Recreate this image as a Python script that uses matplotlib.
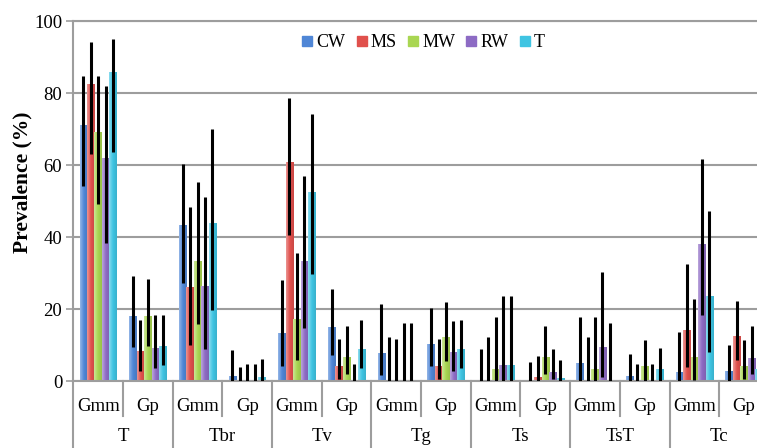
import matplotlib
matplotlib.use('Agg')
import matplotlib.pyplot as plt
import numpy as np
from matplotlib.colors import LinearSegmentedColormap, to_rgb
from matplotlib.lines import Line2D
from matplotlib.transforms import blended_transform_factory

plt.rcParams['font.family'] = ['Liberation Serif', 'DejaVu Serif']

groups = ['T', 'Tbr', 'Tv', 'Tg', 'Ts', 'TsT', 'Tc']
subs = ['Gmm', 'Gp']
series = ['CW', 'MS', 'MW', 'RW', 'T']
colors = ['#4f86d6', '#e0504c', '#a9d652', '#8d6bc4', '#3fc4e2']

# bar heights, lower and upper ends of the error lines (order: T Gmm, T Gp, Tbr Gmm, ...)
cw    = [70.9, 17.9, 43.2, 1.3, 13.2, 14.9, 7.6, 10.1, 0, 0, 4.8, 1.3, 2.4, 2.7]
cw_lo = [54.2, 9.4, 27.2, 0, 4.2, 7.1, 1.6, 4.1, 0, 0, 0, 0, 0, 0]
cw_hi = [84.6, 29.1, 60.4, 8.5, 28.1, 25.6, 21.3, 20.3, 9.0, 5.2, 17.8, 7.6, 13.6, 10.1]

ms    = [82.3, 8.1, 26.0, 0, 60.6, 3.9, 0, 3.9, 0, 0.9, 0, 0, 14.1, 12.4]
ms_lo = [63.1, 2.8, 10.1, 0, 40.6, 0.5, 0, 0.5, 0, 0, 0, 0, 3.9, 5.7]
ms_hi = [94.1, 17.0, 48.3, 3.9, 78.7, 11.8, 12.2, 11.8, 12.2, 7.0, 12.2, 4.6, 32.6, 22.2]

mw    = [68.9, 17.9, 33.2, 0, 17.0, 6.5, 0, 12.2, 3.2, 6.5, 3.2, 3.9, 6.5, 3.9]
mw_lo = [49.3, 9.6, 15.7, 0, 5.7, 2.0, 0, 5.6, 0, 2.0, 0, 0, 0.4, 0.6]
mw_hi = [84.6, 28.3, 55.2, 4.8, 35.6, 15.2, 11.8, 21.9, 17.8, 15.2, 17.8, 11.3, 22.7, 11.3]

rw    = [61.9, 9.0, 26.3, 0, 33.2, 0, 0, 7.9, 4.4, 2.5, 9.3, 0, 38.0, 6.3]
rw_lo = [38.4, 3.7, 8.8, 0, 14.7, 0, 0, 2.8, 0, 0.6, 1.1, 0, 18.2, 2.0]
rw_hi = [82.0, 18.3, 51.0, 4.6, 57.0, 4.8, 16.1, 16.6, 23.7, 9.0, 30.3, 4.6, 61.6, 15.2]

tt    = [85.7, 9.7, 43.8, 1.0, 52.3, 8.8, 0, 8.8, 4.4, 0.8, 0, 3.1, 23.6, 3.1]
tt_lo = [63.6, 4.4, 19.8, 0, 29.8, 3.7, 0, 3.7, 0, 0, 0, 0, 8.1, 0]
tt_hi = [95.0, 18.3, 70.0, 6.1, 74.1, 16.9, 16.1, 16.9, 23.7, 5.8, 16.1, 9.3, 47.2, 9.0]

vals = [cw, ms, mw, rw, tt]
los = [cw_lo, ms_lo, mw_lo, rw_lo, tt_lo]
his = [cw_hi, ms_hi, mw_hi, rw_hi, tt_hi]

fig = plt.figure(figsize=(7.57, 4.48), dpi=100)
ax = fig.add_axes([73.3/757, 67/448, (757-73.3)/757, 360/448])

ncat = len(groups)*len(subs)
pos = np.arange(ncat) + 0.5
w = 0.15
grad = np.linspace(0, 1, 64).reshape(1, -1)

for k in range(len(series)):
	x = pos + (k-2)*w
	v = np.array(vals[k])
	base = np.array(to_rgb(colors[k]))
	light = base + (1-base)*0.4
	dark = base*0.9
	cmap = LinearSegmentedColormap.from_list('g%d' % k, [light, base, dark])
	bars = ax.bar(x, v, w, color=colors[k], zorder=2)
	for b in bars:
		if b.get_height() <= 0:
			continue
		ax.imshow(grad, extent=[b.get_x(), b.get_x()+b.get_width(), 0, b.get_height()],
			aspect='auto', cmap=cmap, zorder=2.1, interpolation='bilinear')
	yerr = [v-np.array(los[k]), np.array(his[k])-v]
	ax.errorbar(x, v, yerr=yerr, fmt='none', ecolor='black', elinewidth=2.2, capsize=0, zorder=3)

ax.set_xlim(0, 13.76)
ax.set_ylim(0, 100)
ax.set_yticks([0, 20, 40, 60, 80, 100])
ax.set_xticks([])
ax.yaxis.grid(True, color='#9d9d9d', linewidth=1.5)
ax.set_axisbelow(True)
for s in ['left', 'bottom', 'top']:
	ax.spines[s].set_color('#9d9d9d')
	ax.spines[s].set_linewidth(1.5)
ax.spines['right'].set_visible(False)
ax.tick_params(axis='y', direction='out', length=5, width=1.2, color='#9d9d9d', labelsize=13.5, pad=3)

ax.set_ylabel('Prevalence (%)', fontweight='bold', fontsize=15.5)
ax.yaxis.set_label_coords(-0.06, 0.553)

# two level category axis
trans = blended_transform_factory(ax.transData, ax.transAxes)
for i in range(ncat+1):
	if i % 2 == 0:
		ax.plot([i, i], [0, -0.19], transform=trans, color='#9d9d9d', lw=1.5, clip_on=False)
	else:
		ax.plot([i, i], [0, -0.097], transform=trans, color='#9d9d9d', lw=1.5, clip_on=False)
for i in range(ncat):
	ax.text(pos[i], -0.072, subs[i % 2], transform=trans, ha='center', va='center', fontsize=13.5)
for g in range(len(groups)):
	ax.text(2*g+1, -0.155, groups[g], transform=trans, ha='center', va='center', fontsize=13.5)

handles = [Line2D([], [], marker='s', linestyle='none', markersize=7, color=c) for c in colors]
ax.legend(handles, series, loc='center', bbox_to_anchor=(0.512, 0.939), ncol=5, frameon=False,
	fontsize=13, handletextpad=0.2, columnspacing=0.6, handlelength=0.6)

fig.savefig('out.png', dpi=100)
